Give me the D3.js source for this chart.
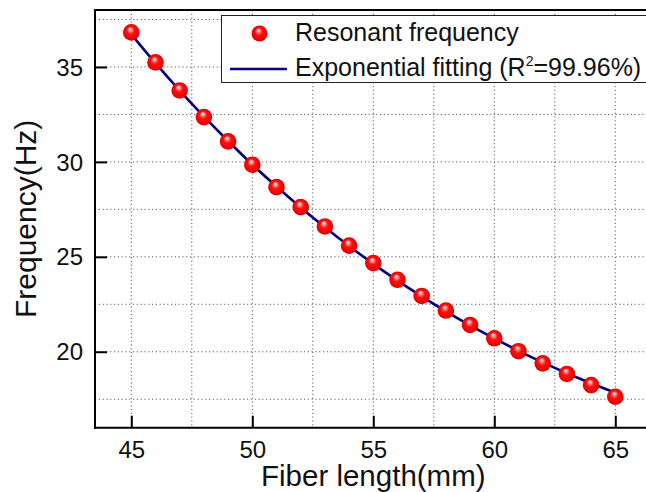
<!DOCTYPE html>
<html>
<head>
<meta charset="utf-8">
<script src="https://cdn.jsdelivr.net/npm/d3@7"></script>
<style>
  html, body { margin: 0; padding: 0; background: #fff; }
  svg { display: block; font-family: "Liberation Sans", Arial, sans-serif; }
</style>
</head>
<body>
<div id="chart"></div>
<script>
// data
const lengths = [45, 46, 47, 48, 49, 50, 51, 52, 53, 54, 55, 56, 57, 58, 59, 60, 61, 62, 63, 64, 65];
const freqs = [36.82, 35.24, 33.76, 32.36, 31.08, 29.85, 28.67, 27.62, 26.60, 25.59, 24.67,
               23.79, 22.94, 22.17, 21.41, 20.71, 20.03, 19.39, 18.83, 18.24, 17.63];
const fitFreqs = [36.72, 35.20, 33.76, 32.40, 31.10, 29.86, 28.70, 27.60, 26.56, 25.57, 24.63,
                  23.75, 22.92, 22.13, 21.39, 20.70, 20.05, 19.44, 18.87, 18.34, 17.84];
const xTicks = [45, 50, 55, 60, 65];
const yTicks = [20, 25, 30, 35];
const xGrid = [45, 47.5, 50, 52.5, 55, 57.5, 60, 62.5, 65];
const yGrid = [17.5, 20, 22.5, 25, 27.5, 30, 32.5, 35, 37.5];
const legendLabels = ["Resonant frequency", "Exponential fitting (R", "2", "=99.96%)"];

const W = 646, H = 492;
const plotLeft = 95, plotTop = 10, plotBottom = 427.7;

const x = d3.scaleLinear().domain([43.5, 66.5]).range([plotLeft, plotLeft + 23 * 24.2]);
const y = d3.scaleLinear().domain([16, 38]).range([plotBottom, plotTop]);

const svg = d3.select("#chart").append("svg").attr("width", W).attr("height", H);

// sphere look for the markers
const grad = svg.append("defs").append("radialGradient").attr("id", "ball")
  .attr("cx", "50%").attr("cy", "50%").attr("r", "50%").attr("fx", "42%").attr("fy", "28%");
grad.append("stop").attr("offset", "0%").attr("stop-color", "#ffffff");
grad.append("stop").attr("offset", "18%").attr("stop-color", "#ff9a9a");
grad.append("stop").attr("offset", "45%").attr("stop-color", "#ff1010");
grad.append("stop").attr("offset", "100%").attr("stop-color", "#e00000");

// grid
svg.append("g").selectAll("line").data(xGrid).join("line")
  .attr("x1", d => x(d)).attr("x2", d => x(d)).attr("y1", plotTop).attr("y2", plotBottom)
  .attr("stroke", "#606060").attr("stroke-width", 1).attr("stroke-dasharray", "1.2,2.6");
svg.append("g").selectAll("line").data(yGrid).join("line")
  .attr("x1", plotLeft).attr("x2", W).attr("y1", d => y(d)).attr("y2", d => y(d))
  .attr("stroke", "#606060").attr("stroke-width", 1).attr("stroke-dasharray", "1.2,2.6");

// axes (ticks inward)
const xAxis = svg.append("g").attr("transform", `translate(0,${plotBottom})`)
  .call(d3.axisBottom(x).tickValues(xTicks).tickSizeInner(-12).tickSizeOuter(0).tickPadding(20));
const yAxis = svg.append("g").attr("transform", `translate(${plotLeft},0)`)
  .call(d3.axisLeft(y).tickValues(yTicks).tickSizeInner(-12).tickSizeOuter(0).tickPadding(24));
[xAxis, yAxis].forEach(g => {
  g.select(".domain").remove();
  g.selectAll(".tick line").attr("stroke", "#000").attr("stroke-width", 2);
  g.selectAll(".tick text").attr("font-size", 24).attr("fill", "#111")
    .attr("font-family", "'Liberation Sans', Arial, sans-serif");
});
xAxis.selectAll(".tick text").attr("dy", "0.71em").attr("y", 13.5);
yAxis.selectAll(".tick text").attr("x", -12).attr("dy", "0.34em");

// frame
svg.append("line").attr("x1", plotLeft).attr("x2", plotLeft).attr("y1", plotTop - 1).attr("y2", plotBottom + 1)
  .attr("stroke", "#000").attr("stroke-width", 2);
svg.append("line").attr("x1", plotLeft - 1).attr("x2", W).attr("y1", plotBottom).attr("y2", plotBottom)
  .attr("stroke", "#000").attr("stroke-width", 2);
svg.append("line").attr("x1", plotLeft - 1).attr("x2", W).attr("y1", plotTop).attr("y2", plotTop)
  .attr("stroke", "#000").attr("stroke-width", 2);

// fit line
const line = d3.line().x((d, i) => x(lengths[i])).y(d => y(d)).curve(d3.curveCatmullRom);
svg.append("path").datum(fitFreqs).attr("fill", "none").attr("stroke", "#000080")
  .attr("stroke-width", 2.6).attr("d", line);

// points
svg.append("g").selectAll("circle").data(freqs).join("circle")
  .attr("cx", (d, i) => x(lengths[i])).attr("cy", d => y(d)).attr("r", 8.3)
  .attr("fill", "url(#ball)");

// legend
const lg = svg.append("g");
lg.append("rect").attr("x", 221.5).attr("y", 15.5).attr("width", 440).attr("height", 67)
  .attr("fill", "#fff").attr("stroke", "#222").attr("stroke-width", 1);
lg.append("circle").attr("cx", 259.5).attr("cy", 33.5).attr("r", 8).attr("fill", "url(#ball)");
lg.append("line").attr("x1", 230).attr("x2", 287).attr("y1", 69).attr("y2", 69)
  .attr("stroke", "#000080").attr("stroke-width", 2.6);
lg.append("text").attr("x", 295).attr("y", 41).attr("font-size", 25).attr("fill", "#111")
  .text(legendLabels[0]);
const t2 = lg.append("text").attr("x", 295).attr("y", 76).attr("font-size", 25).attr("fill", "#111");
t2.append("tspan").text(legendLabels[1]);
t2.append("tspan").attr("font-size", 14).attr("dy", -10).text(legendLabels[2]);
t2.append("tspan").attr("dy", 10).text(legendLabels[3]);

// axis titles
svg.append("text").attr("x", (plotLeft + x.range()[1]) / 2).attr("y", 486)
  .attr("text-anchor", "middle").attr("font-size", 29.5).attr("fill", "#111")
  .text("Fiber length(mm)");
svg.append("text").attr("transform", `translate(36,${(plotTop + plotBottom) / 2}) rotate(-90)`)
  .attr("text-anchor", "middle").attr("font-size", 30).attr("fill", "#111")
  .text("Frequency(Hz)");
</script>
</body>
</html>
